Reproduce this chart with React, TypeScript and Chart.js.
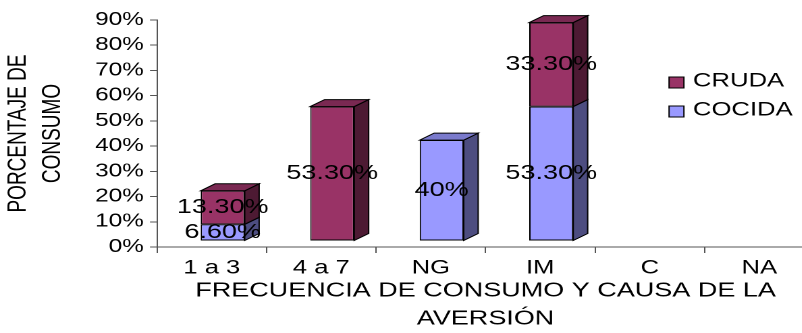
import React, { useEffect, useRef } from 'react';
import { Chart, registerables } from 'chart.js';

Chart.register(...registerables);

// ---- data ----
const categories = ['1 a 3', '4 a 7', 'NG', 'IM', 'C', 'NA'];
const seriesNames = ['COCIDA', 'CRUDA'];
const cocidaValues: (number | null)[] = [6.6, null, 40, 53.3, null, null];
const crudaValues: (number | null)[] = [13.3, 53.3, null, 33.3, null, null];
const yMax = 90;
const yStep = 10;
const xTitle = ['FRECUENCIA DE CONSUMO Y CAUSA DE LA', 'AVERSIÓN'];
const yTitle = ['PORCENTAJE DE', 'CONSUMO'];

// ---- styling ----
const SX = 1.35; // horizontal stretch of the whole picture
const W = 603;
const H = 333;
const FONT = '"Liberation Sans", Arial, sans-serif';
const frontColors = ['#9999FF', '#993366'];
const sideColors = ['#4D4D80', '#4D1A33'];
const topColors = ['#7A7ACC', '#7A2952'];
const DX = 10.7;
const DY = -7;
const SHIFT_X = 8.1;
const SHIFT_Y = -6;

function fmt(v: number): string {
  return Number.isInteger(v) ? `${v}%` : `${v.toFixed(2)}%`;
}

const bar3d = {
  id: 'bar3d',
  beforeDatasetsDraw(chart: any) {
    chart.ctx.save();
    chart.ctx.translate(SHIFT_X, SHIFT_Y);
  },
  afterDatasetsDraw(chart: any) {
    const ctx = chart.ctx;
    const n = chart.data.labels.length;
    const dsCount = chart.data.datasets.length;
    ctx.lineWidth = 1;
    ctx.strokeStyle = '#000';
    for (let j = 0; j < n; j++) {
      let topIdx = -1;
      for (let i = 0; i < dsCount; i++) {
        const v = chart.data.datasets[i].data[j];
        if (v != null && v !== 0) topIdx = i;
      }
      for (let i = 0; i < dsCount; i++) {
        const v = chart.data.datasets[i].data[j];
        if (v == null || v === 0) continue;
        const el = chart.getDatasetMeta(i).data[j];
        const { x, y, base, width } = el.getProps(['x', 'y', 'base', 'width'], true);
        const l = x - width / 2;
        const r = x + width / 2;
        ctx.beginPath();
        ctx.moveTo(r, y);
        ctx.lineTo(r + DX, y + DY);
        ctx.lineTo(r + DX, base + DY);
        ctx.lineTo(r, base);
        ctx.closePath();
        ctx.fillStyle = sideColors[i];
        ctx.fill();
        ctx.stroke();
        if (i === topIdx) {
          ctx.beginPath();
          ctx.moveTo(l, y);
          ctx.lineTo(l + DX, y + DY);
          ctx.lineTo(r + DX, y + DY);
          ctx.lineTo(r, y);
          ctx.closePath();
          ctx.fillStyle = topColors[i];
          ctx.fill();
          ctx.stroke();
        }
      }
    }
    // value labels
    ctx.font = `20px ${FONT}`;
    ctx.fillStyle = '#000';
    ctx.textAlign = 'center';
    ctx.textBaseline = 'middle';
    for (let i = 0; i < dsCount; i++) {
      const meta = chart.getDatasetMeta(i);
      chart.data.datasets[i].data.forEach((v: number | null, j: number) => {
        if (v == null || v === 0) return;
        const { x, y, base } = meta.data[j].getProps(['x', 'y', 'base'], true);
        ctx.fillText(fmt(v), x, (y + base) / 2);
      });
    }
    ctx.restore();
  },
};

const legend3d = {
  id: 'legend3d',
  afterDraw(chart: any) {
    const ctx = chart.ctx;
    ctx.save();
    const items = chart.data.datasets.map((d: any, i: number) => ({ label: d.label, i })).reverse();
    const boxX = 495.6;
    const textX = 513.3;
    const startY = 81.5;
    const gap = 29;
    ctx.font = `19px ${FONT}`;
    ctx.textAlign = 'left';
    ctx.textBaseline = 'middle';
    ctx.lineWidth = 1;
    items.forEach((it: any, k: number) => {
      const cy = startY + k * gap;
      ctx.fillStyle = frontColors[it.i];
      ctx.fillRect(boxX, cy - 4.5, 11, 11);
      ctx.strokeStyle = '#000';
      ctx.strokeRect(boxX, cy - 4.5, 11, 11);
      ctx.fillStyle = '#000';
      ctx.fillText(it.label, textX, cy);
    });
    ctx.restore();
  },
};

export default function App() {
  const ref = useRef<HTMLCanvasElement | null>(null);

  useEffect(() => {
    if (!ref.current) return;
    const chart = new Chart(ref.current, {
      type: 'bar',
      data: {
        labels: categories,
        datasets: [
          {
            label: seriesNames[0],
            data: cocidaValues,
            backgroundColor: frontColors[0],
            borderColor: '#000',
            borderWidth: 1,
            borderSkipped: false,
            categoryPercentage: 1,
            barPercentage: 0.402,
            clip: false,
          } as any,
          {
            label: seriesNames[1],
            data: crudaValues,
            backgroundColor: frontColors[1],
            borderColor: '#000',
            borderWidth: 1,
            borderSkipped: false,
            categoryPercentage: 1,
            barPercentage: 0.402,
            clip: false,
          } as any,
        ],
      },
      options: {
        animation: false,
        responsive: false,
        devicePixelRatio: 2,
        layout: { padding: { top: 20, left: 0, right: 0, bottom: 0 } },
        plugins: {
          legend: { display: false },
          tooltip: { enabled: false },
          title: { display: false },
        },
        scales: {
          x: {
            stacked: true,
            grid: {
              display: true,
              drawOnChartArea: false,
              drawTicks: true,
              tickLength: 6,
              color: '#555',
              offset: true,
            },
            border: { display: true, color: '#555', width: 1 },
            ticks: {
              font: { family: FONT, size: 19 },
              color: '#000',
              padding: 4,
              maxRotation: 0,
              autoSkip: false,
            },
            title: {
              display: true,
              text: xTitle,
              color: '#000',
              font: { family: FONT, size: 20, lineHeight: 1.4 },
              padding: { top: 0, bottom: 0 },
            },
            afterFit: (s: any) => {
              s.height = 86;
            },
          },
          y: {
            stacked: true,
            min: 0,
            max: yMax,
            ticks: {
              stepSize: yStep,
              callback: (v: any) => `${v}%`,
              font: { family: FONT, size: 18 },
              color: '#000',
              padding: 4.6,
            },
            grid: {
              display: true,
              drawOnChartArea: false,
              drawTicks: true,
              tickLength: 5.2,
              color: '#555',
            },
            border: { display: true, color: '#555', width: 1 },
            title: {
              display: true,
              text: yTitle,
              color: '#000',
              font: { family: FONT, size: 19, lineHeight: 1.35 },
              padding: { top: 1, bottom: 0 },
            },
            afterFit: (s: any) => {
              s.width = 116.3;
            },
          },
        },
      } as any,
      plugins: [bar3d, legend3d],
    });
    return () => chart.destroy();
  }, []);

  return (
    <div
      style={{
        position: 'absolute',
        left: 0,
        top: 0,
        width: 802,
        height: 333,
        overflow: 'hidden',
        background: '#fff',
      }}
    >
      <canvas
        ref={ref}
        width={W}
        height={H}
        style={{
          position: 'absolute',
          left: 0,
          top: 0,
          width: `${W}px`,
          height: `${H}px`,
          transform: `scaleX(${SX})`,
          transformOrigin: '0 0',
        }}
      />
    </div>
  );
}
